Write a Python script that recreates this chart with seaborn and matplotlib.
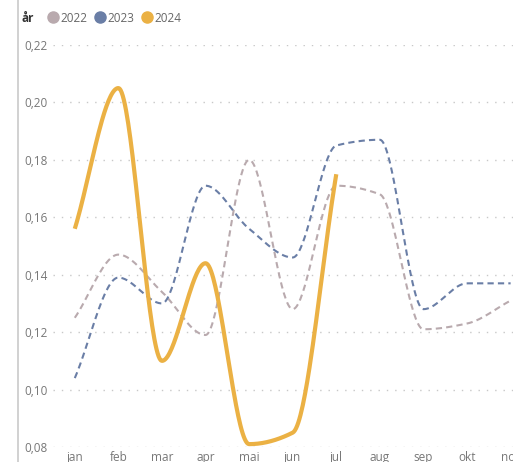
import numpy as np
import pandas as pd
import matplotlib
matplotlib.use("Agg")
import matplotlib.pyplot as plt
from matplotlib.lines import Line2D
from matplotlib.ticker import FuncFormatter
import seaborn as sns

months = ["jan", "feb", "mar", "apr", "mai", "jun", "jul", "aug", "sep", "okt", "nov", "des"]
years = ["2022", "2023", "2024"]
values_2022 = [0.125, 0.147, 0.134, 0.119, 0.180, 0.128, 0.171, 0.168, 0.121, 0.123, 0.131, np.nan]
values_2023 = [0.104, 0.139, 0.130, 0.171, 0.156, 0.146, 0.185, 0.187, 0.128, 0.137, 0.137, np.nan]
values_2024 = [0.156, 0.205, 0.110, 0.144, 0.081, 0.085, 0.175, np.nan, np.nan, np.nan, np.nan, np.nan]
colors = {"2022": "#B9AAAE", "2023": "#6A7EA6", "2024": "#EBB144"}


def monotone_curve(xs, ys, n=40):
    """Monotone cubic (Fritsch-Carlson) path through the given points."""
    xs = np.asarray(xs, float)
    ys = np.asarray(ys, float)
    h = np.diff(xs)
    d = np.diff(ys) / h
    m = np.zeros_like(ys)
    m[0], m[-1] = d[0], d[-1]
    for i in range(1, len(ys) - 1):
        if d[i - 1] * d[i] <= 0:
            m[i] = 0.0
        else:
            w1 = 2 * h[i] + h[i - 1]
            w2 = h[i] + 2 * h[i - 1]
            m[i] = (w1 + w2) / (w1 / d[i - 1] + w2 / d[i])
    px, py = [], []
    for i in range(len(xs) - 1):
        t = np.linspace(0, 1, n, endpoint=(i == len(xs) - 2))
        h00 = 2 * t**3 - 3 * t**2 + 1
        h10 = t**3 - 2 * t**2 + t
        h01 = -2 * t**3 + 3 * t**2
        h11 = t**3 - t**2
        px.append(xs[i] + t * h[i])
        py.append(h00 * ys[i] + h10 * h[i] * m[i] + h01 * ys[i + 1] + h11 * h[i] * m[i + 1])
    return np.concatenate(px), np.concatenate(py)


sns.set_theme(style="white")
plt.rcParams["font.family"] = ["Open Sans", "DejaVu Sans"]

fig = plt.figure(figsize=(5.13, 4.62), dpi=100)
ax = fig.add_axes([53 / 513, 15 / 462, 523 / 513, 402 / 462])

series = {"2022": values_2022, "2023": values_2023, "2024": values_2024}
styles = {
    "2022": dict(linewidth=1.5, linestyle=(0, (3, 2))),
    "2023": dict(linewidth=1.5, linestyle=(0, (3, 2))),
    "2024": dict(linewidth=3.0, linestyle="-"),
}
for yr in years:
    df = pd.DataFrame({"pos": np.arange(len(months)), "val": series[yr]}).dropna()
    cx, cy = monotone_curve(df["pos"], df["val"])
    curve = pd.DataFrame({"x": cx, "y": cy})
    sns.lineplot(data=curve, x="x", y="y", ax=ax, color=colors[yr], sort=False,
                 solid_capstyle="butt", **styles[yr])

ax.set_xlim(-0.5, len(months) - 0.5)
ax.set_ylim(0.08, 0.22)
ax.set_xticks(range(len(months)))
ax.set_xticklabels(months)
ax.set_yticks(np.arange(0.08, 0.2201, 0.02))
ax.yaxis.set_major_formatter(FuncFormatter(lambda v, p: f"{v:.2f}".replace(".", ",")))
ax.tick_params(axis="both", length=0, labelsize=8.5, colors="#777777", pad=4)
ax.tick_params(axis="x", pad=3)
ax.set_xlabel("")
ax.set_ylabel("")
ax.grid(axis="y", color="#C8C8C8", linewidth=1.0, linestyle=(0, (1, 5)))
ax.grid(axis="x", visible=False)
for s in ax.spines.values():
    s.set_visible(False)

# left border of the visual
fig.add_artist(Line2D([17.5 / 513, 17.5 / 513], [0, 1], transform=fig.transFigure,
                      color="#C9C9C9", linewidth=1.2))

# legend
fig.text(22 / 513, 1 - 18 / 462, "år", fontsize=8.5, fontweight="bold", color="#333333",
         va="center", ha="left")
handles = [Line2D([], [], marker="o", linestyle="none", markersize=8,
                  markerfacecolor=colors[yr], markeredgecolor=colors[yr]) for yr in years]
fig.legend(handles, years, loc="center left", bbox_to_anchor=(38 / 513, 1 - 18 / 462),
           ncol=3, frameon=False, fontsize=8.5, handletextpad=-0.1, columnspacing=0.3,
           labelcolor="#666666", borderpad=0, handlelength=1.5)

fig.savefig("out.png", dpi=100, facecolor="white")
